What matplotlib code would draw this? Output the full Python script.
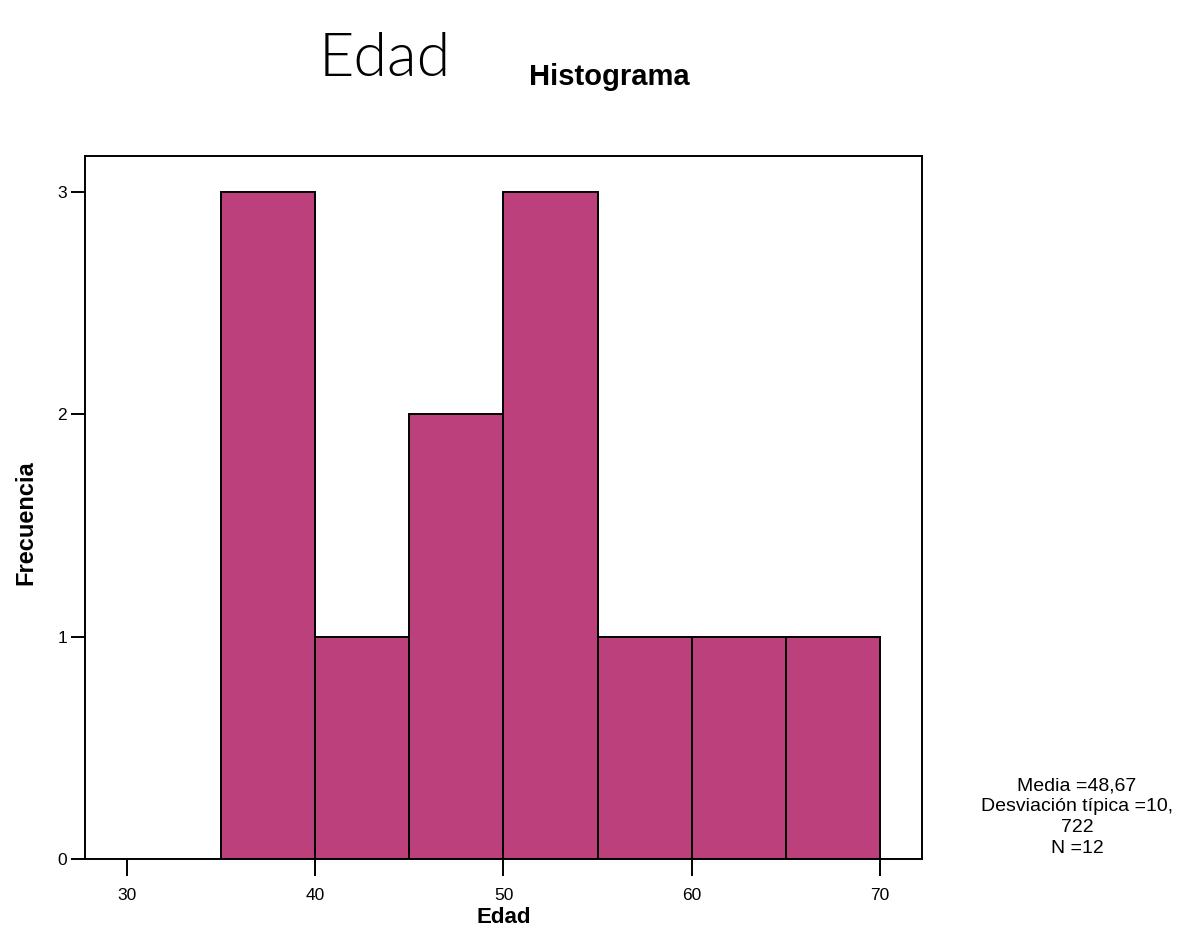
import matplotlib
matplotlib.use("Agg")
import matplotlib.pyplot as plt

plt.rcParams['font.family'] = ['Liberation Sans', 'DejaVu Sans']

# histogram of Edad
bin_edges = [35, 40, 45, 50, 55, 60, 65, 70]
counts = [3, 1, 2, 3, 1, 1, 1]
x_ticks = [30, 40, 50, 60, 70]
y_ticks = [0, 1, 2, 3]
stats_text = "Media =48,67\nDesviación típica =10,\n722\nN =12"

fig = plt.figure(figsize=(11.91, 9.26), dpi=100)
ax = fig.add_axes([85 / 1191, 1 - 859 / 926, (922 - 85) / 1191, (859 - 156) / 926])

widths = [b - a for a, b in zip(bin_edges[:-1], bin_edges[1:])]
ax.bar(bin_edges[:-1], counts, width=widths, align='edge',
       color='#bc407c', edgecolor='black', linewidth=1.4)

ax.set_xlim(27.77, 72.23)
ax.set_ylim(0, 3.16)
ax.set_xticks(x_ticks)
ax.set_yticks(y_ticks)
ax.tick_params(axis='both', direction='out', length=12, width=1.4, labelsize=12.5)
ax.tick_params(axis='x', pad=9)
ax.tick_params(axis='y', length=10, pad=3)
for s in ax.spines.values():
    s.set_linewidth(1.4)

ax.set_ylabel('Frecuencia', fontsize=17, fontweight='bold')
ax.yaxis.set_label_coords(-0.057, 0.478)
ax.set_xlabel('Edad', fontsize=16, fontweight='bold')
ax.xaxis.set_label_coords(0.5, -0.068)
ax.xaxis.label.set_va('top')

fig.text(385 / 1191, 1 - 60 / 926, 'Edad', fontsize=44, ha='center', va='center',
         family=['Lato', 'DejaVu Sans'], fontweight=300)
fig.text(609 / 1191, 1 - 77 / 926, 'Histograma', fontsize=21, fontweight='bold',
         ha='center', va='center')

fig.text(1077 / 1191, 1 - 817 / 926, stats_text, fontsize=14, ha='center',
         va='center', linespacing=1.3)

fig.savefig('out.png', dpi=100)
